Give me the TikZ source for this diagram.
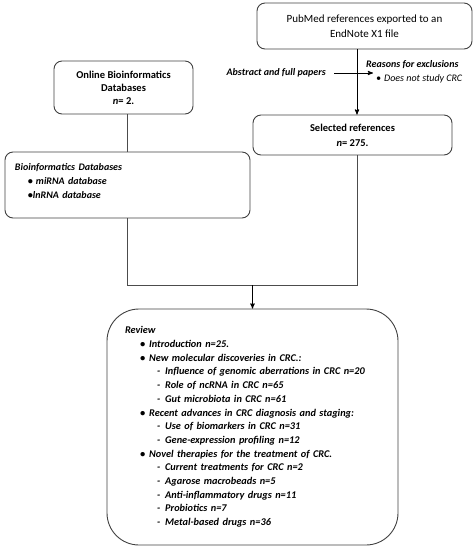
\documentclass[tikz,border=0pt]{standalone}
\usepackage{fontspec}
\setmainfont{Carlito}
\usetikzlibrary{arrows}

\newcommand{\revpt}[1]{\hspace*{15pt}\textbullet\hspace{4pt}#1}
\newcommand{\revsub}[1]{\hspace*{32pt}-\hspace{5pt}#1}

\begin{document}
\begin{tikzpicture}[x=1pt,y=-1pt,
    box/.style={draw=black!75,line width=0.9pt,rounded corners=8pt,align=center,inner sep=3pt},
    conn/.style={draw=black!70,line width=0.9pt},
    tip/.style={->,>=stealth'}]
\useasboundingbox (0,0) rectangle (475,550);

% boxes
\node[box,minimum width=215pt,minimum height=46pt,font=\fontsize{11}{15}\selectfont] (pubmed) at (364.5,26)
  {PubMed references exported to an\\EndNote X1 file};
\node[box,minimum width=139pt,minimum height=53pt,font=\fontsize{10.5}{13}\selectfont\bfseries] (online) at (123.5,87.5)
  {Online Bioinformatics\\Databases\\\textit{n}= 2.};
\node[box,minimum width=199pt,minimum height=40pt,font=\fontsize{10.5}{15}\selectfont\bfseries] (selected) at (352.5,135)
  {Selected references\\\textit{n}= 275.};
\node[box,align=left,text width=225pt,inner xsep=10pt,minimum height=66pt,
      font=\fontsize{10}{14}\selectfont\bfseries\itshape] (bio) at (127.5,185)
  {Bioinformatics Databases\\
   \hspace*{13pt}\textbullet\hspace{3pt}miRNA database\\
   \hspace*{13pt}\textbullet lnRNA database\\[-6pt]\mbox{}};
\node[box,rounded corners=32pt,align=left,text width=255pt,inner xsep=18pt,minimum height=236pt,
      font=\fontsize{10.3}{13.7}\selectfont\bfseries\itshape] (review) at (252.5,427)
  {Review\\
   \revpt{Introduction n=25.}\\
   \revpt{New molecular discoveries in CRC.:}\\
   \revsub{Influence of genomic aberrations in CRC n=20}\\
   \revsub{Role of ncRNA in CRC n=65}\\
   \revsub{Gut microbiota in CRC n=61}\\
   \revpt{Recent advances in CRC diagnosis and staging:}\\
   \revsub{Use of biomarkers in CRC n=31}\\
   \revsub{Gene-expression profiling n=12}\\
   \revpt{Novel therapies for the treatment of CRC.}\\
   \revsub{Current treatments for CRC n=2}\\
   \revsub{Agarose macrobeads n=5}\\
   \revsub{Anti-inflammatory drugs n=11}\\
   \revsub{Probiotics n=7}\\
   \revsub{Metal-based drugs n=36}};

% side labels
\node[anchor=east,inner sep=1pt,font=\fontsize{10}{12}\selectfont\bfseries\itshape] (abstract) at (327,73)
  {Abstract and full papers};
\node[anchor=west,inner sep=1pt,align=left,font=\fontsize{10}{14}\selectfont\itshape] (reasons) at (365,72)
  {\bfseries Reasons for exclusions\\\hspace*{10pt}\textbullet\hspace{3pt}Does not study CRC};

\coordinate (trunk) at (357,285);

% connectors
\draw[conn,tip,draw=black] (pubmed.south -| trunk) -- (selected.north -| trunk);
\draw[conn,tip,draw=black] ([xshift=7pt]abstract.east) -- ([xshift=8pt]abstract.east -| reasons.west);
\draw[conn] (online.south -| bio.north) -- (bio.north);
\draw[conn] (selected.south -| trunk) -- (trunk) -- (bio.south |- trunk) -- (bio.south);
\draw[conn,tip,draw=black] (review.north |- trunk) -- (review.north);
\end{tikzpicture}
\end{document}
